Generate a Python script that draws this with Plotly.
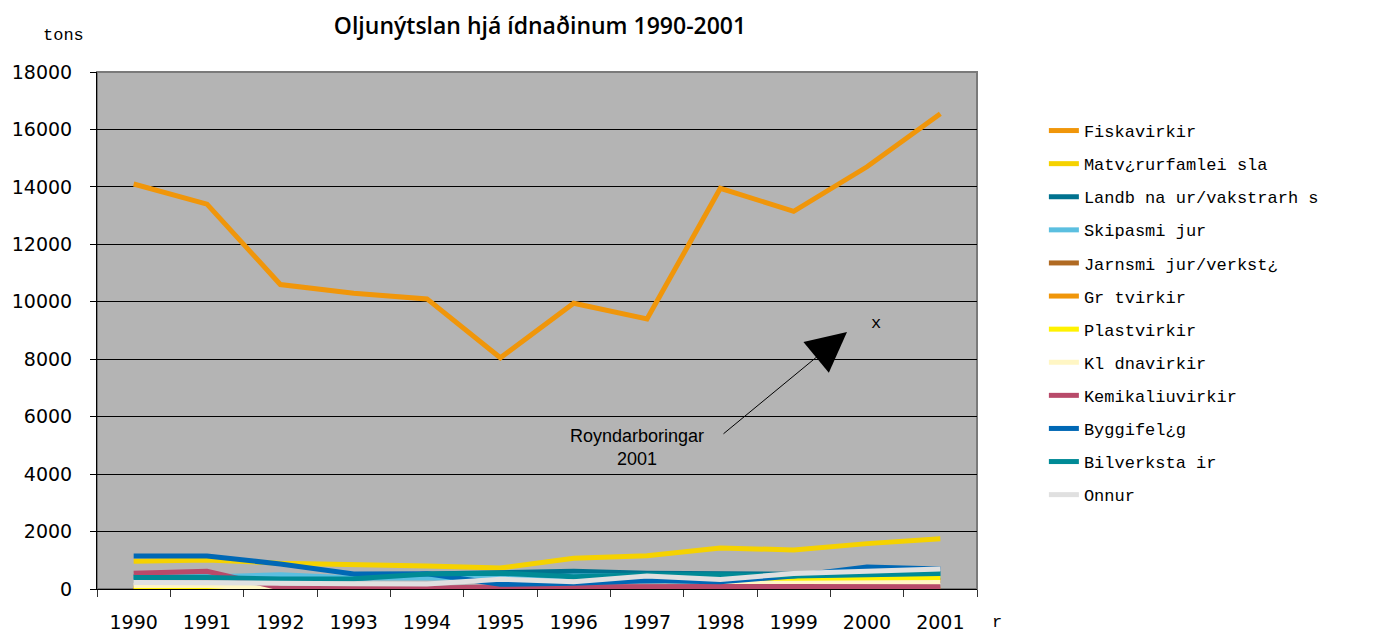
import plotly.graph_objects as go

years = ["1990", "1991", "1992", "1993", "1994", "1995", "1996", "1997", "1998", "1999", "2000", "2001"]

fiskavirkir = [14100, 13400, 10600, 10300, 10100, 8050, 9950, 9400, 13950, 13150, 14700, 16550]
matvoru = [970, 1010, 900, 870, 800, 730, 1070, 1160, 1430, 1360, 1580, 1750]
landbunadur = [430, 420, 350, 360, 520, 550, 620, 550, 540, 500, 500, 540]
skipasmidjur = [420, 420, 500, 380, 380, 380, 450, 450, 450, 450, 450, 450]
jarnsmidjur = [0, 0, 0, 0, 0, 0, 0, 50, 150, 250, 280, 300]
grotvirkir = [10, 0, 0, 0, 0, 0, 0, 0, 0, 0, 0, 0]
plastvirkir = [0, 0, 0, 0, 0, 0, 0, 50, 100, 300, 350, 380]
kladnavirkir = [120, 120, 0, 0, 0, 0, 0, 100, 200, 200, 220, 230]
kemikaliuvirkir = [550, 620, 30, 25, 25, 80, 95, 95, 90, 85, 80, 80]
byggifelag = [1150, 1150, 870, 520, 530, 165, 200, 290, 255, 450, 770, 700]
bilverkstadir = [400, 400, 350, 360, 520, 550, 430, 500, 500, 450, 500, 540]
onnur = [230, 230, 200, 180, 175, 340, 255, 450, 330, 540, 640, 700]

series_names = ["Fiskavirkir", "Matv\u00bfrurfamlei sla", "Landb na ur/vakstrarh s", "Skipasmi jur",
                "Jarnsmi jur/verkst\u00bf", "Gr tvirkir", "Plastvirkir", "Kl dnavirkir",
                "Kemikaliuvirkir", "Byggifel\u00bfg", "Bilverksta ir", "Onnur"]
series_values = [fiskavirkir, matvoru, landbunadur, skipasmidjur, jarnsmidjur, grotvirkir,
                 plastvirkir, kladnavirkir, kemikaliuvirkir, byggifelag, bilverkstadir, onnur]
series_colors = ["#f0960a", "#f5d200", "#00728f", "#5bbfe0", "#b06a22", "#f0960a",
                 "#fff200", "#fff6c4", "#b84a6a", "#0068b5", "#008a96", "#e0e0e0"]

fig = go.Figure()
for i, (name, vals, col) in enumerate(zip(series_names, series_values, series_colors)):
    fig.add_trace(go.Scatter(
        x=years, y=vals, name=name, mode="lines",
        line=dict(color=col, width=5),
        legendgroup=f"g{i}",
    ))

mono = "Liberation Mono, Courier New, monospace"
sans = "DejaVu Sans, Liberation Sans, Arial, sans-serif"

W, H = 1378, 627
L, T = 89, 64
PW, PH = 880, 517


def px(xp):
    return (xp - 97) / PW


def py(yp):
    return (589 - yp) / PH


fig.update_layout(
    width=W, height=H,
    margin=dict(l=L, r=W - L - PW, t=T, b=H - T - PH),
    paper_bgcolor="white",
    plot_bgcolor="#b4b4b4",
    showlegend=True,
    title=dict(text="Oljunýtslan hjá ídnaðinum 1990-2001", x=532 / W, xanchor="center",
               y=1 - 18 / H, yanchor="middle",
               font=dict(family="Open Sans, DejaVu Sans, sans-serif", size=23, weight=600,
                         color="black")),
    legend=dict(x=1.076, xanchor="left", y=py(113), yanchor="top",
                font=dict(family=mono, size=17, color="black"),
                traceorder="grouped", tracegroupgap=8, bgcolor="rgba(0,0,0,0)"),
    xaxis=dict(type="category", range=[-0.5, 11.5], showgrid=False, automargin=False,
               showline=True, linecolor="black", linewidth=1,
               ticks="outside", tickson="boundaries", ticklen=7, tickcolor="#333",
               tickfont=dict(family=sans, size=19, color="black"),
               ticklabelstandoff=16),
    yaxis=dict(range=[0, 18000], dtick=2000, tickformat="d", showgrid=True, automargin=False,
               gridcolor="black", gridwidth=1,
               showline=True, linecolor="black", linewidth=1, zeroline=False,
               ticks="outside", ticklen=6, tickcolor="black",
               tickfont=dict(family=sans, size=19, color="black"),
               ticklabelstandoff=14),
    shapes=[dict(type="rect", xref="paper", yref="paper", x0=0, x1=1, y0=0, y1=1,
                 line=dict(color="#7a7a7a", width=2), layer="below")],
    annotations=[
        dict(text="tons", xref="paper", yref="paper", x=px(63), y=py(35),
             showarrow=False, xanchor="center", yanchor="middle",
             font=dict(family=mono, size=17, color="black")),
        dict(text="r", xref="paper", yref="paper", x=px(997), y=py(622),
             showarrow=False, xanchor="center", yanchor="middle",
             font=dict(family=mono, size=17, color="black")),
        dict(text="x", xref="paper", yref="paper", x=px(876), y=py(323),
             showarrow=False, xanchor="center", yanchor="middle",
             font=dict(family=mono, size=17, color="black")),
        dict(text="Royndarboringar<br>2001", xref="paper", yref="paper",
             x=px(637), y=py(447), showarrow=False, xanchor="center", yanchor="middle",
             font=dict(family="Liberation Sans, Arial, sans-serif", size=18, color="black")),
        dict(text="", xref="paper", yref="paper", x=px(847), y=py(332),
             ax=-125, ay=103, showarrow=True, arrowhead=2, arrowsize=8, arrowwidth=1,
             arrowcolor="black", standoff=0),
    ],
)

fig.write_html("out.html")
